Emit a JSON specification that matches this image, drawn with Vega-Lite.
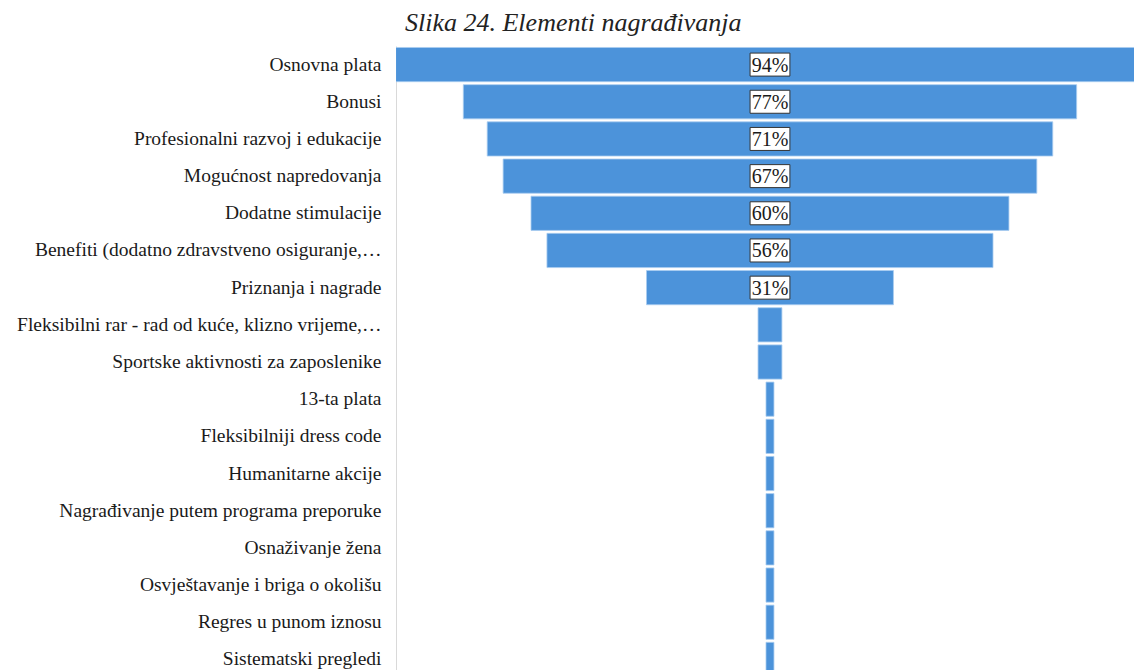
{
  "$schema": "https://vega.github.io/schema/vega-lite/v6.json",
  "autosize": {"type": "none"},
  "padding": {"left": 396, "top": 46, "right": 0, "bottom": 0},
  "width": 738,
  "height": 624,
  "background": "white",
  "config": {"view": {"stroke": null}},
  "title": {
    "text": "Slika 24. Elementi nagrađivanja",
    "font": "Liberation Serif",
    "fontStyle": "italic",
    "fontWeight": "normal",
    "fontSize": 26,
    "color": "#222222",
    "anchor": "start",
    "frame": "group",
    "dx": 9,
    "offset": 10
  },
  "data": {
    "values": [
      {"element": "Osnovna plata", "pct": 0.94},
      {"element": "Bonusi", "pct": 0.77},
      {"element": "Profesionalni razvoj i edukacije", "pct": 0.71},
      {"element": "Mogućnost napredovanja", "pct": 0.67},
      {"element": "Dodatne stimulacije", "pct": 0.60},
      {"element": "Benefiti (dodatno zdravstveno osiguranje,…", "pct": 0.56},
      {"element": "Priznanja i nagrade", "pct": 0.31},
      {"element": "Fleksibilni rar - rad od kuće, klizno vrijeme,…", "pct": 0.03},
      {"element": "Sportske aktivnosti za zaposlenike", "pct": 0.03},
      {"element": "13-ta plata", "pct": 0.01},
      {"element": "Fleksibilniji dress code", "pct": 0.01},
      {"element": "Humanitarne akcije", "pct": 0.01},
      {"element": "Nagrađivanje putem programa preporuke", "pct": 0.01},
      {"element": "Osnaživanje žena", "pct": 0.01},
      {"element": "Osvještavanje i briga o okolišu", "pct": 0.01},
      {"element": "Regres u punom iznosu", "pct": 0.01},
      {"element": "Sistematski pregledi", "pct": 0.01}
    ]
  },
  "encoding": {
    "y": {
      "field": "element",
      "type": "nominal",
      "sort": null,
      "scale": {
        "domain": [
          "Osnovna plata", "Bonusi", "Profesionalni razvoj i edukacije", "Mogućnost napredovanja",
          "Dodatne stimulacije", "Benefiti (dodatno zdravstveno osiguranje,…", "Priznanja i nagrade",
          "Fleksibilni rar - rad od kuće, klizno vrijeme,…", "Sportske aktivnosti za zaposlenike",
          "13-ta plata", "Fleksibilniji dress code", "Humanitarne akcije",
          "Nagrađivanje putem programa preporuke", "Osnaživanje žena",
          "Osvještavanje i briga o okolišu", "Regres u punom iznosu", "Sistematski pregledi"
        ],
        "range": [0, 632],
        "paddingInner": 0.08,
        "paddingOuter": 0.04
      },
      "axis": {
        "title": null,
        "ticks": false,
        "domain": true,
        "domainColor": "#d9d9d9",
        "labelFont": "Liberation Serif",
        "labelFontSize": 19.5,
        "labelColor": "#1a1a1a",
        "labelPadding": 15,
        "labelLimit": 0
      }
    }
  },
  "layer": [
    {
      "mark": {"type": "bar", "color": "#4c93da", "clip": true, "stroke": "#a9cdf0", "strokeWidth": 0.8},
      "encoding": {
        "x": {
          "field": "pct",
          "type": "quantitative",
          "stack": "center",
          "scale": {"domain": [0.0005, 0.927], "nice": false, "zero": false},
          "axis": null
        }
      }
    },
    {
      "transform": [{"filter": "datum.pct >= 0.1"}],
      "mark": {"type": "bar", "color": "white", "stroke": "#333333", "strokeWidth": 1, "height": 23},
      "encoding": {
        "x": {"datum": 0.445, "type": "quantitative"},
        "x2": {"datum": 0.495}
      }
    },
    {
      "transform": [{"filter": "datum.pct >= 0.1"}],
      "mark": {
        "type": "text",
        "font": "Liberation Serif",
        "fontSize": 20,
        "color": "#1a1a1a",
        "align": "center",
        "baseline": "middle",
        "dy": 1
      },
      "encoding": {
        "x": {"datum": 0.47, "type": "quantitative"},
        "text": {"field": "pct", "type": "quantitative", "format": ".0%"}
      }
    }
  ]
}
